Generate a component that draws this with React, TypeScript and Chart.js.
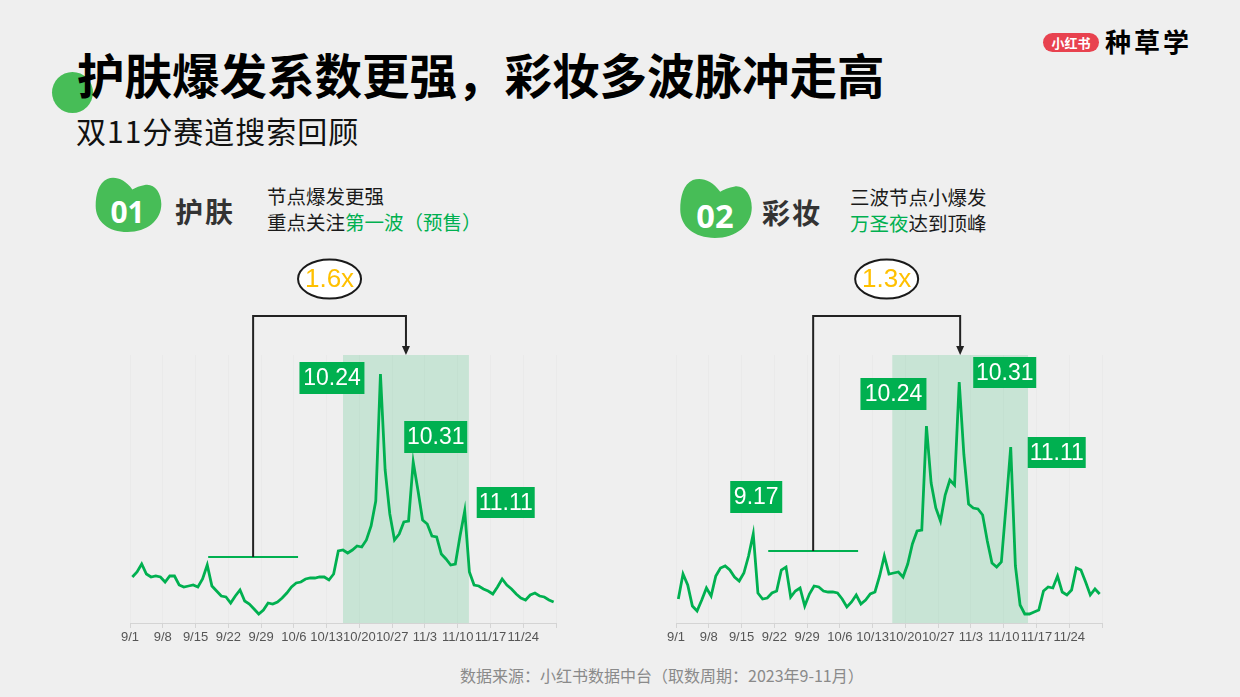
import React, { useEffect, useRef } from 'react';
import { Chart, registerables } from 'chart.js';

Chart.register(...registerables);

// ---------- data ----------
const tickLabels = ['9/1', '9/8', '9/15', '9/22', '9/29', '10/6', '10/13', '10/20', '10/27', '11/3', '11/10', '11/17', '11/24'];

// daily search index, 9/1 – 11/30
const skincareValues = [
  46, 51, 59, 49, 46, 47, 46, 41, 47, 47,
  38, 36, 37, 38, 36, 44, 58, 37, 32, 27,
  26, 20, 27, 33, 22, 19, 14, 9, 13, 20,
  19, 21, 25, 30, 36, 40, 41, 44, 45, 45,
  46, 46, 43, 49, 72, 73, 70, 73, 77, 76,
  83, 97, 122, 249, 153, 109, 83, 89, 101, 102,
  161, 133, 103, 99, 87, 86, 69, 64, 58, 59,
  87, 112, 51, 38, 37, 34, 32, 29, 36, 44,
  38, 34, 29, 25, 23, 28, 30, 27, 26, 23,
  21,
];

const makeupValues = [
  24, 49, 38, 17, 12, 23, 35, 27, 47, 55,
  57, 53, 46, 42, 50, 67, 89, 30, 24, 25,
  30, 32, 53, 56, 26, 32, 35, 17, 29, 37,
  36, 32, 31, 31, 30, 24, 16, 21, 28, 19,
  23, 29, 31, 47, 67, 49, 50, 51, 46, 59,
  79, 92, 93, 197, 140, 115, 102, 128, 143, 138,
  241, 168, 119, 115, 114, 108, 82, 60, 56, 61,
  117, 176, 57, 18, 9, 9, 11, 13, 32, 36,
  35, 47, 31, 28, 33, 55, 53, 41, 28, 34,
  29,
];

// peak annotations: day index + label text
const skincarePeaks = [
  { index: 53, text: '10.24' },
  { index: 60, text: '10.31' },
  { index: 71, text: '11.11' },
];
const makeupPeaks = [
  { index: 16, text: '9.17' },
  { index: 53, text: '10.24' },
  { index: 60, text: '10.31' },
  { index: 71, text: '11.11' },
];

// highlighted period (axis units), baseline (axis range + level), multiple
const skincareShade = [45.5, 72.4];
const makeupShade = [46.2, 75.2];
const skincareBaseline = { from: 16.7, to: 35.9, value: 66 };
const makeupBaseline = { from: 19.7, to: 38.9, value: 72 };
const skincareRatio = '1.6x';
const makeupRatio = '1.3x';

// ---------- styling (label box offsets relative to the peak point) ----------
const skincareBoxStyle = [
  { dx: -81, dy: -12, w: 65, h: 32 },
  { dx: -9, dy: -41, w: 63, h: 32 },
  { dx: 12, dy: -24, w: 58, h: 31 },
];
const makeupBoxStyle = [
  { dx: -23, dy: -53, w: 52, h: 32 },
  { dx: -66, dy: -48, w: 66, h: 32 },
  { dx: 14, dy: -25, w: 63, h: 31 },
  { dx: 17, dy: -10, w: 58, h: 31 },
];

const GREEN = '#00B050';
const BLOB = '#47BD57';
const NUM_FONT = '"Liberation Sans", Arial, sans-serif';
const CJK = '"Noto Sans CJK SC", "Noto Sans", sans-serif';

const decoPlugin = {
  id: 'deco',
  beforeDatasetsDraw(chart: any, _a: any, opts: any) {
    const { ctx, chartArea, scales } = chart;
    const x = scales.x;
    const x0 = x.getPixelForValue(opts.shade[0]);
    const x1 = x.getPixelForValue(opts.shade[1]);
    ctx.save();
    ctx.fillStyle = 'rgba(0,176,80,0.16)';
    ctx.fillRect(x0, chartArea.top, x1 - x0, chartArea.bottom - chartArea.top);
    ctx.restore();
  },
  afterDatasetsDraw(chart: any, _a: any, opts: any) {
    const { ctx, chartArea, scales } = chart;
    const x = scales.x;
    const y = scales.y;
    const data = chart.data.datasets[0].data;
    const sx0 = x.getPixelForValue(opts.shade[0]);
    const sx1 = x.getPixelForValue(opts.shade[1]);
    const sc = (sx0 + sx1) / 2;
    const b = opts.baseline;
    const bx0 = x.getPixelForValue(b.from);
    const bx1 = x.getPixelForValue(b.to);
    const by = y.getPixelForValue(b.value);
    const mid = (bx0 + bx1) / 2;
    const top = chartArea.top - 39;

    ctx.save();
    // baseline
    ctx.strokeStyle = GREEN;
    ctx.lineWidth = 2;
    ctx.beginPath();
    ctx.moveTo(bx0, by);
    ctx.lineTo(bx1, by);
    ctx.stroke();
    // bracket
    ctx.strokeStyle = '#222';
    ctx.lineWidth = 2;
    ctx.beginPath();
    ctx.moveTo(mid, by);
    ctx.lineTo(mid, top);
    ctx.lineTo(sc, top);
    ctx.lineTo(sc, chartArea.top - 8);
    ctx.stroke();
    ctx.fillStyle = '#222';
    ctx.beginPath();
    ctx.moveTo(sc - 4, chartArea.top - 9);
    ctx.lineTo(sc + 4, chartArea.top - 9);
    ctx.lineTo(sc, chartArea.top);
    ctx.closePath();
    ctx.fill();
    // ratio ellipse
    const cx = (mid + sc) / 2;
    const cy = chartArea.top - 76;
    ctx.beginPath();
    ctx.ellipse(cx, cy, 31.5, 19.5, 0, 0, Math.PI * 2);
    ctx.fillStyle = '#fff';
    ctx.fill();
    ctx.lineWidth = 2;
    ctx.strokeStyle = '#1a1a1a';
    ctx.stroke();
    ctx.fillStyle = '#FFC000';
    ctx.font = `26px ${NUM_FONT}`;
    ctx.textAlign = 'center';
    ctx.textBaseline = 'middle';
    ctx.fillText(opts.ratio, cx, cy + 1);
    // peak labels
    ctx.font = `23px ${NUM_FONT}`;
    opts.peaks.forEach((p: any, i: number) => {
      const st = opts.boxes[i];
      const px = x.getPixelForValue(data[p.index].x);
      const py = y.getPixelForValue(data[p.index].y);
      const lx = px + st.dx;
      const ly = py + st.dy;
      ctx.fillStyle = GREEN;
      ctx.fillRect(lx, ly, st.w, st.h);
      ctx.fillStyle = '#fff';
      ctx.fillText(p.text, lx + st.w / 2, ly + st.h / 2 + 1);
    });
    ctx.restore();
  },
};

function LineChart(props: { values: number[]; peaks: any[]; boxes: any[]; shade: number[]; baseline: any; ratio: string; left: number; top: number }) {
  const ref = useRef<HTMLCanvasElement | null>(null);
  useEffect(() => {
    if (!ref.current) return;
    const chart = new Chart(ref.current, {
      type: 'line',
      data: {
        datasets: [
          {
            // each day sits in the middle of its day slot on the axis
            data: props.values.map((v, i) => ({ x: i + 0.5, y: v })),
            borderColor: GREEN,
            borderWidth: 2.8,
            pointRadius: 0,
            tension: 0,
            fill: false,
          },
        ],
      },
      options: {
        animation: false,
        responsive: false,
        devicePixelRatio: 1,
        layout: { padding: { left: 30, right: 24, top: 105, bottom: 0 } },
        plugins: {
          legend: { display: false },
          tooltip: { enabled: false },
          deco: {
            peaks: props.peaks,
            boxes: props.boxes,
            shade: props.shade,
            baseline: props.baseline,
            ratio: props.ratio,
          },
        } as any,
        scales: {
          x: {
            type: 'linear',
            min: 0,
            max: 91,
            afterBuildTicks: (s: any) => {
              s.ticks = tickLabels.map((_, i) => ({ value: i * 7 })).concat([{ value: 91 }]);
            },
            afterFit: (s: any) => {
              s.height = 27;
            },
            ticks: {
              autoSkip: false,
              maxRotation: 0,
              minRotation: 0,
              padding: 2,
              color: '#555',
              font: { family: NUM_FONT, size: 13 },
              callback: (v: any) => tickLabels[Math.round(Number(v) / 7)] ?? '',
            },
            grid: { color: 'rgba(0,0,0,0.02)', tickColor: '#d4d4d4', tickLength: 5 },
            border: { color: '#d4d4d4', width: 1 },
          },
          y: { display: false, min: 0, max: 268 },
        },
      },
      plugins: [decoPlugin as any],
    });
    return () => chart.destroy();
  }, []);
  return (
    <canvas
      ref={ref}
      width={480}
      height={400}
      style={{ position: 'absolute', left: props.left, top: props.top, width: 480, height: 400 }}
    />
  );
}

function Badge(props: { left: number; top: number; w: number; h: number; num: string }) {
  return (
    <svg style={{ position: 'absolute', left: props.left, top: props.top }} width={props.w} height={props.h} viewBox="0 0 68 58">
      <path
        d="M38,13 C30,2 20,-1 12,2 C3,6 0,18 0,30 C0,46 13,57 33,57 C53,57 68,45 68,28 C68,16 61,7 52,8 C46,9 41,11 38,13 Z"
        fill={BLOB}
      />
      <text x="33" y="48" textAnchor="middle" fill="#fff" fontSize="31" fontWeight="bold" fontFamily='"Noto Sans", "Liberation Sans", sans-serif'>
        {props.num}
      </text>
    </svg>
  );
}

export default function App() {
  const abs = (s: React.CSSProperties): React.CSSProperties => ({ position: 'absolute', whiteSpace: 'nowrap', ...s });
  return (
    <div
      style={{
        position: 'fixed',
        left: 0,
        top: 0,
        width: 1240,
        height: 697,
        background: '#efefef',
        overflow: 'hidden',
        fontFamily: CJK,
      }}
    >
      {/* title decoration */}
      <div style={abs({ left: 52, top: 72, width: 41, height: 41, borderRadius: '50%', background: BLOB })} />
      <div style={abs({ left: 77, top: 50, fontSize: 47.5, fontWeight: 700, lineHeight: 1, color: '#000' })}>
        护肤爆发系数更强，彩妆多波脉冲走高
      </div>
      <div style={abs({ left: 76, top: 115, fontSize: 30, lineHeight: 1, letterSpacing: 1, color: '#111' })}>
        双11分赛道搜索回顾
      </div>

      {/* logo */}
      <div
        style={abs({
          left: 1043,
          top: 33,
          width: 56,
          height: 19,
          borderRadius: 10,
          background: '#E8424F',
          color: '#fff',
          fontSize: 13,
          fontWeight: 700,
          lineHeight: '19px',
          textAlign: 'center',
        })}
      >
        小红书
      </div>
      <div style={abs({ left: 1105, top: 28, fontSize: 26, fontWeight: 700, lineHeight: 1, letterSpacing: 3, color: '#000' })}>
        种草学
      </div>

      {/* section headers */}
      <Badge left={95} top={177} w={67} h={56} num="01" />
      <div style={abs({ left: 175, top: 197, fontSize: 28, fontWeight: 700, lineHeight: 1, letterSpacing: 2, color: '#333' })}>护肤</div>
      <div style={abs({ left: 267, top: 183, fontSize: 19.5, lineHeight: '26px', color: '#1a1a1a' })}>
        <div>节点爆发更强</div>
        <div>
          重点关注<span style={{ color: GREEN }}>第一波（预售）</span>
        </div>
      </div>

      <Badge left={680} top={178} w={72} h={61} num="02" />
      <div style={abs({ left: 762, top: 198, fontSize: 28, fontWeight: 700, lineHeight: 1, letterSpacing: 2, color: '#333' })}>彩妆</div>
      <div style={abs({ left: 850, top: 184, fontSize: 19.5, lineHeight: '26px', color: '#1a1a1a' })}>
        <div>三波节点小爆发</div>
        <div>
          <span style={{ color: GREEN }}>万圣夜</span>达到顶峰
        </div>
      </div>

      {/* charts */}
      <LineChart
        values={skincareValues}
        peaks={skincarePeaks}
        boxes={skincareBoxStyle}
        shade={skincareShade}
        baseline={skincareBaseline}
        ratio={skincareRatio}
        left={100}
        top={250}
      />
      <LineChart
        values={makeupValues}
        peaks={makeupPeaks}
        boxes={makeupBoxStyle}
        shade={makeupShade}
        baseline={makeupBaseline}
        ratio={makeupRatio}
        left={646}
        top={250}
      />

      {/* footer */}
      <div style={abs({ left: 460, top: 667, fontSize: 16, lineHeight: 1, color: '#8a8a8a' })}>
        数据来源：小红书数据中台（取数周期：2023年9-11月）
      </div>
    </div>
  );
}
